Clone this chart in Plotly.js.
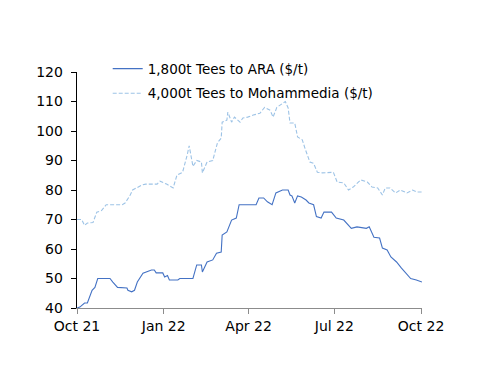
<!DOCTYPE html>
<html>
<head>
<meta charset="utf-8">
<script src="https://cdn.plot.ly/plotly-3.0.1.min.js"></script>
<style>html,body{margin:0;padding:0;background:#fff}#chart{width:500px;height:386px}</style>
</head>
<body>
<div id="chart"></div>
<script>
// Series 1: 1,800t Tees to ARA ($/t)
const araDates = ["2021-10-01","2021-10-04","2021-10-09","2021-10-12","2021-10-17","2021-10-20","2021-10-23","2021-11-05","2021-11-08","2021-11-13","2021-11-23","2021-11-24","2021-11-28","2021-12-01","2021-12-04","2021-12-10","2021-12-19","2021-12-22","2021-12-24","2021-12-31","2022-01-02","2022-01-05","2022-01-07","2022-01-16","2022-01-18","2022-02-01","2022-02-05","2022-02-10","2022-02-11","2022-02-16","2022-02-22","2022-02-26","2022-03-03","2022-03-04","2022-03-09","2022-03-14","2022-03-19","2022-03-22","2022-04-09","2022-04-12","2022-04-17","2022-04-21","2022-04-26","2022-04-30","2022-05-07","2022-05-13","2022-05-15","2022-05-17","2022-05-20","2022-05-23","2022-05-27","2022-06-01","2022-06-04","2022-06-09","2022-06-12","2022-06-17","2022-06-20","2022-06-28","2022-07-03","2022-07-11","2022-07-19","2022-07-25","2022-08-04","2022-08-07","2022-08-12","2022-08-18","2022-08-21","2022-08-26","2022-08-30","2022-09-05","2022-09-10","2022-09-15","2022-09-20","2022-09-26","2022-10-02"];
const araValues = [40,40.3,41.7,41.7,46,47,50,50,48.8,47,46.8,46,45.5,46,48.8,51.8,52.9,52.9,51.9,51.9,50.5,51,49.5,49.5,50,50,54.6,54.6,52.2,55.6,56.3,58.6,59,64.7,65.8,69.8,70.5,75,75,77.3,77.3,76,75,79,80,80,78.3,78,75.6,78,77.6,76.6,75.6,75,71,70.5,72.5,72.5,70.5,69.8,67,67.5,67,67.5,64,63.7,60.3,59.7,57.3,55.6,53.6,51.9,50,49.5,48.8];

// Series 2: 4,000t Tees to Mohammedia ($/t)
const mohDates = ["2021-10-01","2021-10-06","2021-10-09","2021-10-12","2021-10-18","2021-10-22","2021-10-27","2021-11-01","2021-11-18","2021-11-21","2021-11-26","2021-11-29","2021-12-09","2021-12-13","2021-12-25","2021-12-28","2022-01-04","2022-01-11","2022-01-15","2022-01-21","2022-01-26","2022-01-28","2022-02-01","2022-02-05","2022-02-10","2022-02-11","2022-02-16","2022-02-22","2022-02-27","2022-03-03","2022-03-04","2022-03-09","2022-03-10","2022-03-14","2022-03-17","2022-03-23","2022-03-26","2022-03-31","2022-04-06","2022-04-13","2022-04-18","2022-04-24","2022-04-27","2022-05-01","2022-05-10","2022-05-13","2022-05-15","2022-05-20","2022-05-23","2022-05-28","2022-05-31","2022-06-05","2022-06-09","2022-06-13","2022-06-18","2022-06-24","2022-06-30","2022-07-04","2022-07-11","2022-07-16","2022-07-21","2022-07-29","2022-08-05","2022-08-10","2022-08-16","2022-08-21","2022-08-24","2022-08-29","2022-09-04","2022-09-09","2022-09-16","2022-09-22","2022-09-27","2022-10-02"];
const mohValues = [70,70,68,68.8,69,72.5,73,75,75,75.6,78,80,81.7,82,82,83,82,80.7,85,86,92,95,88,90,89.5,85.8,89.5,90,96,97.6,103,103.7,106.4,103,104.7,103,104.4,104.7,105.4,106,108,107,104.7,108,110,107.8,102.7,102.7,98,97,94,89.5,89,86,85.8,86,86,82.7,82.4,80,81,83.4,82.7,81,80.7,78.3,80.7,80.7,79,80,79,80,79.3,79.3];

// Axis ticks
const xTickVals = ["2021-10-01","2022-01-01","2022-04-01","2022-07-01","2022-10-01"];
const xTickText = ["Oct 21","Jan 22","Apr 22","Jul 22","Oct 22"];
const yTickVals = [40,50,60,70,80,90,100,110,120];

const FONT = "DejaVu Sans, Verdana, sans-serif";

const traces = [
  {x: araDates, y: araValues, type: "scatter", mode: "lines", name: "1,800t Tees to ARA ($/t)",
   legendgroup: "a", line: {color: "#4472C4", width: 1.1}},
  {x: mohDates, y: mohValues, type: "scatter", mode: "lines", name: "4,000t Tees to Mohammedia ($/t)",
   legendgroup: "b", line: {color: "#9DC3E6", width: 1.1, dash: "4px,2px"}}
];

const layout = {
  width: 500, height: 386,
  margin: {l: 77, r: 78, t: 72, b: 78},
  paper_bgcolor: "#fff", plot_bgcolor: "#fff",
  font: {family: FONT, size: 14, color: "#000"},
  showlegend: true,
  legend: {x: 0.089, xanchor: "left", y: 1.079, yanchor: "top", bgcolor: "rgba(0,0,0,0)",
           font: {family: FONT, size: 13.5, color: "#000"}, traceorder: "grouped", tracegroupgap: 4, itemwidth: 30},
  xaxis: {type: "date", range: ["2021-10-01", "2022-10-02"], tickmode: "array", tickvals: xTickVals, ticktext: xTickText,
          showgrid: false, zeroline: false, showline: true, linecolor: "#8c8c8c", linewidth: 1,
          ticks: "outside", ticklen: 5, tickcolor: "#8c8c8c", tickfont: {family: FONT, size: 14, color: "#000"}},
  yaxis: {range: [40, 120], tickmode: "array", tickvals: yTickVals, showgrid: false, zeroline: false,
          showline: true, linecolor: "#000", linewidth: 1.3, ticks: "outside", ticklen: 5, tickcolor: "#000",
          ticklabelstandoff: 5, tickfont: {family: FONT, size: 14, color: "#000"}}
};

Plotly.newPlot("chart", traces, layout, {displayModeBar: false, staticPlot: true});
</script>
</body>
</html>
